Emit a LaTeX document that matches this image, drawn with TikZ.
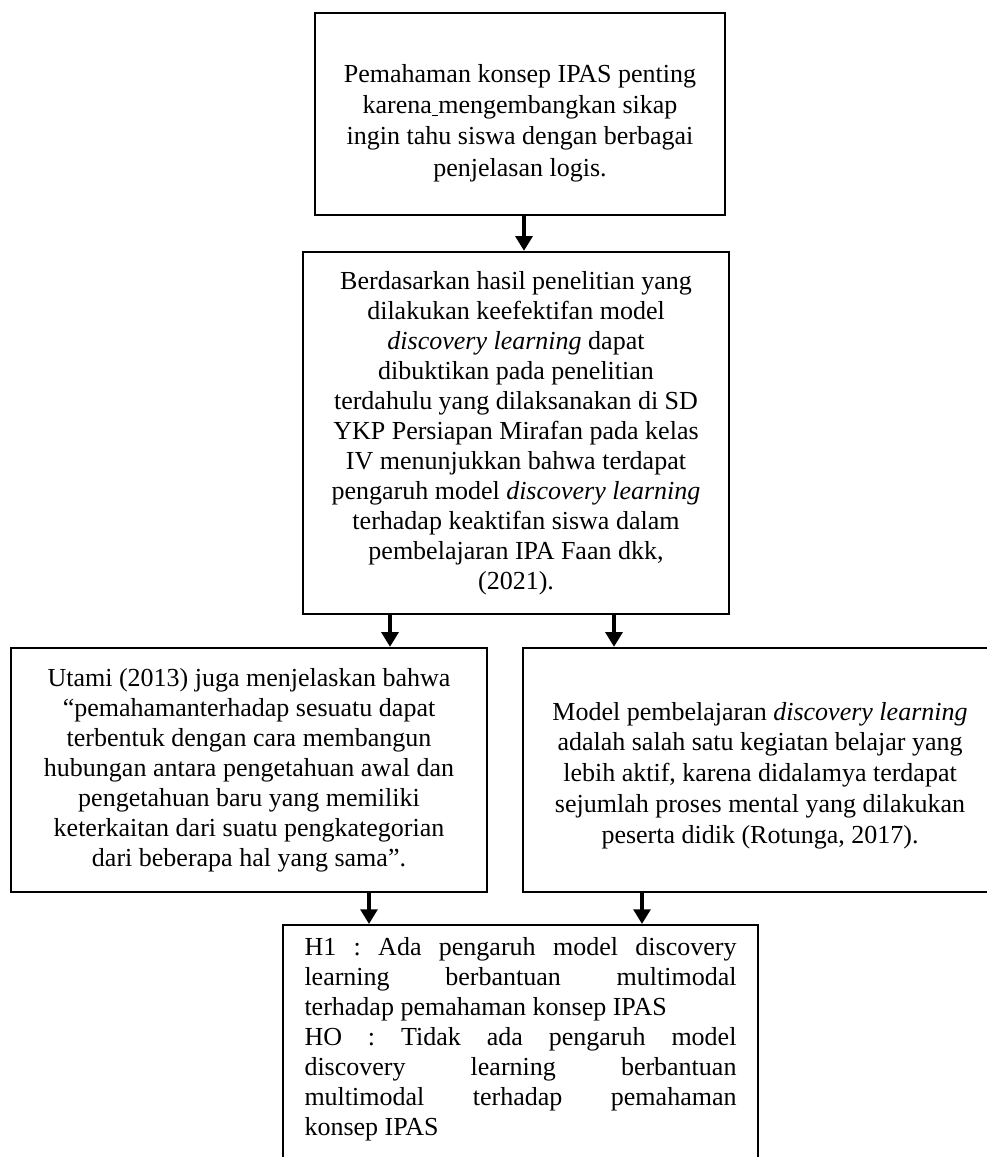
\documentclass[tikz,border=0pt]{standalone}
\usepackage{fontspec}
\setmainfont{Liberation Serif}
\usetikzlibrary{arrows.meta}
\frenchspacing
\newcommand{\jline}[1]{\makebox[324pt][s]{#1}}
\newcommand{\lline}[1]{\makebox[324pt][l]{#1}}
\begin{document}
\begin{tikzpicture}[x=0.75pt,y=-0.75pt,
  font=\fontsize{19.5}{22.5}\selectfont\frenchspacing,
  box/.style={draw=black,line width=1.7pt,align=center,inner sep=0pt},
  arr/.style={line width=3pt,-{Triangle[width=12.5pt,length=11pt]}}]
\path[use as bounding box,clip] (0,0) rectangle (987,1157);
\fill[white] (0,0) rectangle (987,1157);
\node[box,minimum width=307.5pt,minimum height=151.5pt,font=\fontsize{19.5}{23.5}\selectfont\frenchspacing] (b1) at (520,114)
 {\rule{0pt}{27pt}Pemahaman konsep IPAS penting\\ karena\underline{\ }mengembangkan sikap\\ ingin tahu siswa dengan berbagai\\ penjelasan logis.};
\node[box,minimum width=319.5pt,minimum height=271.5pt] (b2) at (516,433)
 {Berdasarkan hasil penelitian yang\\ dilakukan keefektifan model\\ \textit{discovery learning} dapat\\ dibuktikan pada penelitian\\ terdahulu yang dilaksanakan di SD\\ YKP Persiapan Mirafan pada kelas\\ IV menunjukkan bahwa terdapat\\ pengaruh model \textit{discovery learning}\\ terhadap keaktifan siswa dalam\\ pembelajaran IPA Faan dkk,\\ (2021).};
\node[box,minimum width=357pt,minimum height=183pt] (b3) at (249,770)
 {Utami (2013) juga menjelaskan bahwa\\ “pemahamanterhadap sesuatu dapat\\ terbentuk dengan cara membangun\\ hubungan antara pengetahuan awal dan\\ pengetahuan baru yang memiliki\\ keterkaitan dari suatu pengkategorian\\ dari beberapa hal yang sama”.};
\node[box,minimum width=355.5pt,minimum height=183pt,font=\fontsize{19.5}{23.2}\selectfont\frenchspacing] (b4) at (760,770)
 {\rule{0pt}{22pt}Model pembelajaran \textit{discovery learning}\\ adalah salah satu kegiatan belajar yang\\ lebih aktif, karena didalamya terdapat\\ sejumlah proses mental yang dilakukan\\ peserta didik (Rotunga, 2017).};
\node[box,align=left,anchor=north,inner xsep=16.1pt,inner ysep=9pt] (b5) at (520.5,924)
 {\jline{H1 : Ada pengaruh model discovery}\\ \jline{learning berbantuan multimodal}\\ \lline{terhadap pemahaman konsep IPAS}\\ \jline{HO : Tidak ada pengaruh model}\\ \jline{discovery learning berbantuan}\\ \jline{multimodal terhadap pemahaman}\\ \lline{konsep IPAS}\\[6pt]};
\coordinate (c1) at (524,0);
\coordinate (c2) at (390,0);
\coordinate (c3) at (614,0);
\coordinate (c4) at (369,0);
\coordinate (c5) at (642,0);
\draw[arr] (b1.south -| c1) -- (b2.north -| c1);
\draw[arr] (b2.south -| c2) -- (b3.north -| c2);
\draw[arr] (b2.south -| c3) -- (b4.north -| c3);
\draw[arr] (b3.south -| c4) -- (b5.north -| c4);
\draw[arr] (b4.south -| c5) -- (b5.north -| c5);
\end{tikzpicture}
\end{document}
